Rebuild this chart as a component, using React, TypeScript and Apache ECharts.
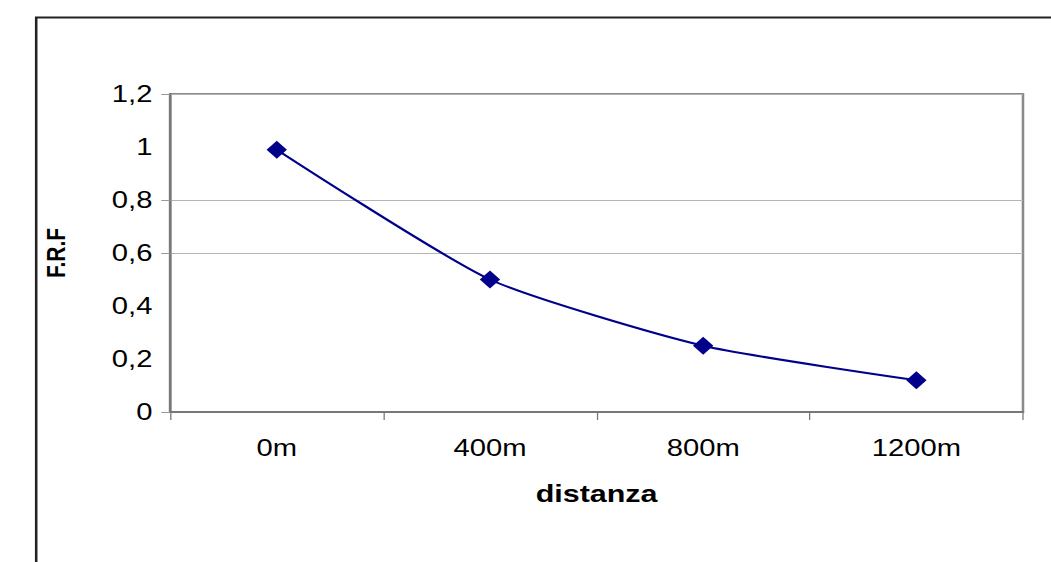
import React, { useEffect, useRef } from "react";
import * as echarts from "echarts";

const categories = ["0m", "400m", "800m", "1200m"];
const frfValues = [0.99, 0.5, 0.25, 0.12];
const yTickValues = [0, 0.6, 0.8, 1.2];

const STRETCH = 1.27;
const BASE_W = Math.round(1051 / STRETCH);

export default function App() {
  const ref = useRef<HTMLDivElement>(null);
  useEffect(() => {
    document.body.style.margin = "0";
    const chart = echarts.init(ref.current!, null, { renderer: "svg" });
    const font = "'Liberation Sans', Arial, sans-serif";
    chart.setOption({
      animation: false,
      backgroundColor: "#ffffff",
      textStyle: { fontFamily: font },
      graphic: [
        {
          type: "rect",
          left: 26,
          top: 15,
          shape: { width: 900, height: 570 },
          style: { fill: "none", stroke: "#222", lineWidth: 2 },
          silent: true,
        },
      ],
      grid: {
        left: 134,
        right: 22.5,
        top: 94,
        bottom: 150,
        show: true,
        borderColor: "#8a8a8a",
        borderWidth: 2,
        backgroundColor: "transparent",
      },
      xAxis: {
        type: "category",
        data: categories,
        boundaryGap: true,
        name: "distanza",
        nameLocation: "middle",
        nameGap: 70,
        nameTextStyle: { fontFamily: font, fontSize: 24, fontWeight: "bold", color: "#000" },
        axisLine: { lineStyle: { color: "#777", width: 2 } },
        axisTick: { show: true, length: 8, alignWithLabel: false, lineStyle: { color: "#777", width: 1 } },
        axisLabel: { fontFamily: font, fontSize: 23, color: "#000", margin: 25 },
        splitLine: { show: false },
      },
      yAxis: {
        type: "value",
        min: 0,
        max: 1.2,
        interval: 0.2,
        name: "F.R.F",
        nameLocation: "middle",
        nameGap: 80,
        nameRotate: 90,
        nameTextStyle: { fontFamily: font, fontSize: 21, fontWeight: "bold", color: "#000" },
        axisLine: { show: true, lineStyle: { color: "#777", width: 2 } },
        axisTick: {
          show: true,
          length: 7,
          customValues: yTickValues,
          lineStyle: { color: "#999", width: 1 },
        },
        axisLabel: {
          fontFamily: font,
          fontSize: 23,
          color: "#000",
          margin: 14,
          formatter: (v: number) => String(Math.round(v * 10) / 10).replace(".", ","),
        },
        splitLine: {
          show: true,
          lineStyle: { color: "#b4b4b4", width: 1 },
        },
      },
      series: [
        {
          type: "line",
          data: frfValues,
          smooth: 0.2,
          symbol: "diamond",
          symbolSize: [16, 18],
          lineStyle: { color: "#00008b", width: 2 },
          itemStyle: { color: "#00008b" },
        },
      ],
    });
    return () => chart.dispose();
  }, []);
  return (
    <div style={{ width: 1051, height: 562, overflow: "hidden", position: "relative" }}>
      <div
        ref={ref}
        style={{
          width: BASE_W,
          height: 562,
          transform: `scaleX(${STRETCH})`,
          transformOrigin: "0 0",
        }}
      />
    </div>
  );
}
